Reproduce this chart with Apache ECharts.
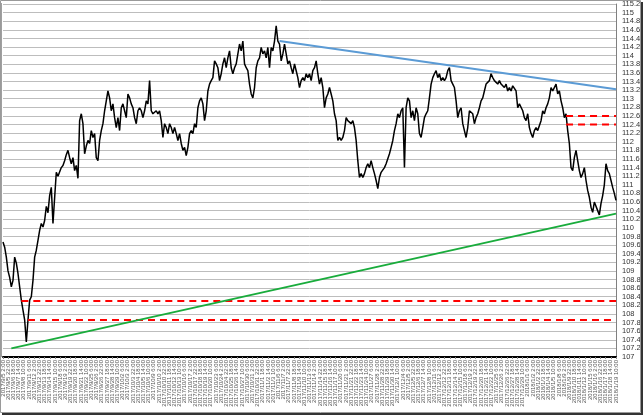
<!DOCTYPE html>
<html>
<head>
<meta charset="utf-8">
<script src="https://cdn.jsdelivr.net/npm/echarts@6/dist/echarts.min.js"></script>
<style>
html,body{margin:0;padding:0;background:#fff;}
#chart{width:644px;height:416px;}
</style>
</head>
<body>
<div id="chart"></div>
<script>
// x-axis tick labels (every 5th 4-hour bar)
const dateLabels = [
"2017/9/5 2:00","2017/9/5 22:00","2017/9/6 18:00","2017/9/7 14:00","2017/9/8 10:00",
"2017/9/11 6:00","2017/9/12 2:00","2017/9/12 22:00","2017/9/13 18:00","2017/9/14 14:00","2017/9/15 10:00",
"2017/9/18 6:00","2017/9/19 2:00","2017/9/19 22:00","2017/9/20 18:00","2017/9/21 14:00","2017/9/22 10:00",
"2017/9/25 6:00","2017/9/26 2:00","2017/9/26 22:00","2017/9/27 18:00","2017/9/28 14:00","2017/9/29 10:00",
"2017/10/2 6:00","2017/10/3 2:00","2017/10/3 22:00","2017/10/4 18:00","2017/10/5 14:00","2017/10/6 10:00",
"2017/10/9 6:00","2017/10/10 2:00","2017/10/10 22:00","2017/10/11 18:00","2017/10/12 14:00","2017/10/13 10:00",
"2017/10/16 6:00","2017/10/17 2:00","2017/10/17 22:00","2017/10/18 18:00","2017/10/19 14:00","2017/10/20 10:00",
"2017/10/23 6:00","2017/10/24 2:00","2017/10/24 22:00","2017/10/25 18:00","2017/10/26 14:00","2017/10/27 10:00",
"2017/10/30 6:00","2017/10/31 2:00","2017/10/31 22:00","2017/11/1 18:00","2017/11/2 14:00","2017/11/3 10:00",
"2017/11/6 6:00","2017/11/7 2:00","2017/11/7 22:00","2017/11/8 18:00","2017/11/9 14:00","2017/11/10 10:00",
"2017/11/13 6:00","2017/11/14 2:00","2017/11/14 22:00","2017/11/15 18:00","2017/11/16 14:00","2017/11/17 10:00",
"2017/11/20 6:00","2017/11/21 2:00","2017/11/21 22:00","2017/11/22 18:00","2017/11/23 14:00","2017/11/24 10:00",
"2017/11/27 6:00","2017/11/28 2:00","2017/11/28 22:00","2017/11/29 18:00","2017/11/30 14:00","2017/12/1 10:00",
"2017/12/4 6:00","2017/12/5 2:00","2017/12/5 22:00","2017/12/6 18:00","2017/12/7 14:00","2017/12/8 10:00",
"2017/12/11 6:00","2017/12/12 2:00","2017/12/12 22:00","2017/12/13 18:00","2017/12/14 14:00","2017/12/15 10:00",
"2017/12/18 6:00","2017/12/19 2:00","2017/12/19 22:00","2017/12/20 18:00","2017/12/21 14:00","2017/12/22 10:00",
"2017/12/25 6:00","2017/12/26 2:00","2017/12/26 22:00","2017/12/27 18:00","2017/12/28 14:00","2017/12/29 10:00",
"2018/1/1 6:00","2018/1/2 2:00","2018/1/2 22:00","2018/1/3 18:00","2018/1/4 14:00","2018/1/5 10:00",
"2018/1/8 6:00","2018/1/9 2:00","2018/1/9 22:00","2018/1/10 18:00","2018/1/11 14:00","2018/1/12 10:00",
"2018/1/15 6:00","2018/1/16 2:00","2018/1/16 22:00","2018/1/17 18:00","2018/1/18 14:00","2018/1/19 10:00"
];

// price trace (approx. every 8 hours)
const priceTrace = [
109.67,109.55,109.32,109.0,108.85,108.63,108.78,109.32,109.18,108.94,
108.63,108.32,108.09,107.86,107.35,107.86,108.32,108.4,108.78,109.32,
109.48,109.71,109.94,110.1,110.02,110.17,110.5,110.35,110.75,110.94,
110.1,110.7,111.29,111.2,111.17,111.4,111.45,111.56,111.7,111.8,
111.63,111.49,111.63,111.33,111.45,111.15,112.49,112.65,112.42,111.72,
111.9,112.03,111.96,112.26,112.1,112.19,111.63,111.56,112.03,112.26,
112.42,112.72,112.95,113.18,113.02,112.72,112.88,112.56,112.33,112.56,
112.26,112.79,112.88,112.72,112.56,113.11,113.02,112.88,112.79,112.56,
112.42,112.72,112.79,112.72,112.56,112.72,112.95,112.88,113.42,112.72,
112.65,112.65,112.72,112.65,112.72,112.49,112.1,112.42,112.33,112.19,
112.42,112.33,112.19,112.33,112.19,112.03,112.19,111.96,111.8,111.87,
111.68,111.87,112.19,112.26,112.19,112.42,112.33,112.79,112.95,113.02,
112.88,112.49,112.72,113.18,113.34,113.42,113.49,113.88,113.81,113.72,
113.42,113.58,113.81,113.95,113.72,113.95,114.11,113.72,113.58,113.72,
113.81,114.04,114.27,114.11,114.34,113.81,113.72,113.65,113.34,113.11,
113.02,113.26,113.72,113.88,113.95,114.19,114.04,114.11,113.95,114.19,
113.72,114.19,114.11,114.34,114.69,114.34,114.27,113.88,114.04,114.27,
114.04,113.81,113.88,113.72,113.58,113.81,113.65,113.49,113.26,113.42,
113.49,113.42,113.58,113.49,113.58,113.42,113.65,113.72,113.88,113.58,
113.34,113.49,113.26,112.79,113.02,113.11,113.26,113.11,112.95,112.65,
112.49,112.03,112.1,112.03,112.1,112.26,112.56,112.49,112.49,112.42,
112.49,112.33,112.03,111.56,111.17,111.26,111.17,111.26,111.4,111.49,
111.4,111.56,111.4,111.26,111.1,110.91,111.17,111.29,111.26,111.4,
111.49,111.49,111.72,111.87,112.03,112.26,112.42,112.65,112.56,112.72,
112.79,111.4,112.79,113.02,112.95,112.56,112.72,112.49,112.79,112.65,
112.19,112.1,112.33,112.56,112.65,112.72,113.02,113.34,113.49,113.58,
113.65,113.49,113.58,113.42,113.49,113.42,113.49,113.65,113.72,113.42,
113.34,113.26,112.95,112.56,112.72,112.79,112.42,112.26,112.1,112.33,
112.72,112.72,112.65,112.42,112.56,112.65,112.79,112.95,113.02,113.18,
113.34,113.34,113.42,113.58,113.49,113.42,113.42,113.34,113.42,113.34,
113.34,113.26,113.34,113.18,113.26,113.18,113.3,113.34,113.18,112.79,
112.88,112.88,112.72,112.56,112.49,112.65,112.33,112.19,112.1,112.26,
112.33,112.26,112.26,112.49,112.72,112.65,112.79,112.88,113.02,113.26,
113.18,113.18,113.34,113.11,113.18,112.95,112.79,112.56,112.65,112.26,
111.96,111.4,111.33,111.63,111.8,111.56,111.33,111.17,111.26,111.4,
111.1,110.87,110.71,110.48,110.36,110.6,110.6,110.4,110.3,110.57,
110.75,111.0,111.49,111.33,111.26,111.1,110.94,110.8,110.64
];
const traceSteps = priceTrace.map((_, i) => String(i));

// trend / level lines: [trace step, price]
const blueTrend  = [[166, 114.34], [368, 113.22]];
const greenTrend = [[5, 107.2], [368, 110.33]];
const redLevels = [
  [[11, 108.30], [368, 108.30]],
  [[15, 107.86], [368, 107.86]],
  [[338, 112.60], [368, 112.60]],
  [[338, 112.40], [368, 112.40]]
];

const yMin = 107, yMax = 115.2, yStep = 0.2;

const chart = echarts.init(document.getElementById('chart'), null, {renderer: 'canvas'});
const redSeries = redLevels.map((d, i) => ({
  type: 'line', name: 'red' + i, xAxisIndex: 1, data: d, symbol: 'none', silent: true,
  lineStyle: {color: '#ff0000', width: 2, type: [7, 5]}, z: 4
}));
chart.setOption({
  animation: false,
  backgroundColor: '#ffffff',
  grid: {left: 2, right: 28, top: 3, bottom: 59, containLabel: false},
  xAxis: [
    {
      type: 'category', data: dateLabels, boundaryGap: false,
      axisLine: {show: true, lineStyle: {color: '#000', width: 2}},
      axisTick: {show: true, length: 2, interval: 0, lineStyle: {color: '#888'}},
      axisLabel: {interval: 0, rotate: 90, fontSize: 6, color: '#555', margin: 3,
                  fontFamily: 'Liberation Sans'},
      splitLine: {show: false}
    },
    {
      type: 'category', data: traceSteps, boundaryGap: false, show: false,
      axisLine: {show: false}, axisTick: {show: false}, axisLabel: {show: false}
    }
  ],
  yAxis: {
    type: 'value', position: 'right', min: yMin, max: yMax, interval: yStep,
    axisLine: {show: true, lineStyle: {color: '#808080', width: 1}},
    axisTick: {show: false},
    axisLabel: {fontSize: 7.5, color: '#333', margin: 6, fontFamily: 'Liberation Sans',
                formatter: v => String(Math.round(v * 10) / 10)},
    splitLine: {show: true, lineStyle: {color: '#bdbdbd', width: 1}}
  },
  series: [
    {
      type: 'line', name: 'price', xAxisIndex: 1, data: priceTrace, symbol: 'none',
      lineStyle: {color: '#000', width: 1.5}, z: 3, silent: true
    },
    {
      type: 'line', name: 'blue', xAxisIndex: 1, data: blueTrend, symbol: 'none',
      lineStyle: {color: '#5b9bd5', width: 2}, z: 5, silent: true
    },
    {
      type: 'line', name: 'green', xAxisIndex: 1, data: greenTrend, symbol: 'none',
      lineStyle: {color: '#19ac3c', width: 2}, z: 5, silent: true
    }
  ].concat(redSeries),
  graphic: [
    {type: 'line', shape: {x1: 1.5, y1: 3, x2: 1.5, y2: 357}, style: {stroke: '#a0a0a0', lineWidth: 1}, z: 10},
    {type: 'rect', shape: {x: 0.5, y: 0.5, width: 640, height: 412}, style: {fill: null, stroke: '#9a9a9a', lineWidth: 1}, z: 10},
    {type: 'line', shape: {x1: 2, y1: 414, x2: 643, y2: 414}, style: {stroke: '#333', lineWidth: 2}, z: 10},
    {type: 'line', shape: {x1: 642, y1: 2, x2: 642, y2: 415}, style: {stroke: '#333', lineWidth: 2}, z: 10}
  ]
});
</script>
</body>
</html>
